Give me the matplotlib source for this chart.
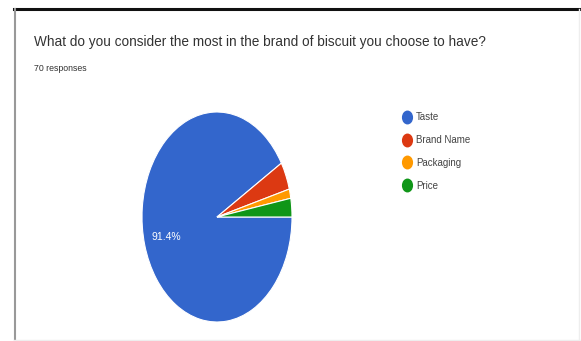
import matplotlib.pyplot as plt
from matplotlib.lines import Line2D
from matplotlib.markers import MarkerStyle
from matplotlib.transforms import Affine2D

# Survey answers (70 responses)
labels = ['Taste', 'Brand Name', 'Packaging', 'Price']
counts = [64, 3, 1, 2]
colors = ['#3366CC', '#DC3912', '#FF9900', '#109618']

title = 'What do you consider the most in the brand of biscuit you choose to have?'
subtitle = '70 responses'

W, H = 581, 341
fig = plt.figure(figsize=(W / 100, H / 100), dpi=100)

# screenshot frame
fig.add_artist(Line2D([14 / W, 1], [1 - 8.5 / H, 1 - 8.5 / H], color='#111111', lw=2.2))
fig.add_artist(Line2D([14.5 / W, 14.5 / W], [0, 1 - 8.5 / H], color='#999999', lw=1.5))
fig.add_artist(Line2D([14 / W, 1], [1.5 / H, 1.5 / H], color='#eeeeee', lw=1))
fig.add_artist(Line2D([578.5 / W, 578.5 / W], [0, 1 - 9 / H], color='#eeeeee', lw=1))

fig.text(34 / W, 1 - 46 / H, title, fontsize=9.8, color='#333333',
         family='Liberation Sans', va='baseline')
fig.text(34 / W, 1 - 71 / H, subtitle, fontsize=6.3, color='#333333',
         family='Liberation Sans', va='baseline')

# pie (squashed horizontally like the screenshot)
cx, cy, rx, ry = 217, 217, 75, 105
ax = fig.add_axes([(cx - rx) / W, (H - cy - ry) / H, 2 * rx / W, 2 * ry / H])


def fmt(p):
    return '%.1f%%' % p if p > 10 else ''


wedges, texts, autotexts = ax.pie(
    counts, colors=colors, startangle=0, counterclock=False,
    autopct=fmt, pctdistance=0.7,
    wedgeprops=dict(edgecolor='white', linewidth=0.8),
    textprops=dict(color='white', fontsize=7.5, family='Liberation Sans'))
ax.set_aspect('auto')
ax.set_xlim(-1, 1)
ax.set_ylim(-1, 1)

oval = MarkerStyle('o', transform=Affine2D().scale(0.78, 1.0))
handles = [Line2D([], [], marker=oval, ls='', markersize=9, color=c) for c in colors]
fig.legend(handles, labels, loc='upper left', bbox_to_anchor=(403 / W, 1 - 112 / H),
           frameon=False, handlelength=0.8, handletextpad=0.53,
           labelspacing=1.33, borderpad=0, borderaxespad=0,
           prop=dict(family='Liberation Sans', size=7.0))
for t in fig.legends[0].get_texts():
    t.set_color('#444444')

fig.savefig('out.png', dpi=100)
